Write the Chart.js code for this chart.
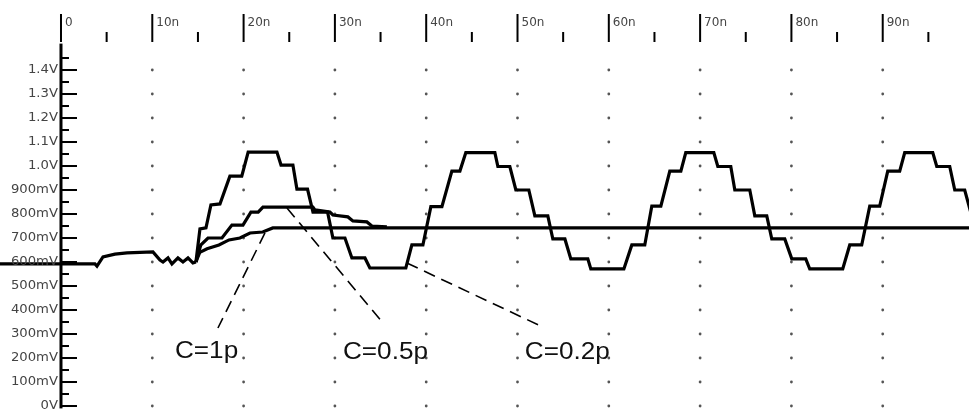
<!DOCTYPE html>
<html>
<head>
<meta charset="utf-8">
<script src="https://cdn.jsdelivr.net/npm/chart.js"></script>
<style>
body { margin: 0; background: #fff; }
#wrap { width: 969px; height: 411px; position: relative; }
</style>
</head>
<body>
<div id="wrap"><canvas id="ctx2"></canvas></div>
<script>
// axis ticks (time in ns, voltage in V)
const xTicks = [0, 10, 20, 30, 40, 50, 60, 70, 80, 90];
const xTickLabels = ['0', '10n', '20n', '30n', '40n', '50n', '60n', '70n', '80n', '90n'];
const yTicks = [0, 0.1, 0.2, 0.3, 0.4, 0.5, 0.6, 0.7, 0.8, 0.9, 1.0, 1.1, 1.2, 1.3, 1.4];
const yTickLabels = ['0V', '100mV', '200mV', '300mV', '400mV', '500mV', '600mV', '700mV', '800mV', '900mV', '1.0V', '1.1V', '1.2V', '1.3V', '1.4V'];

// common start of all traces
const tCommon = [-6.68, 3.72, 3.94, 4.60, 5.91, 7.23, 10.07, 10.84, 11.17, 11.72, 12.15, 12.81, 13.36, 13.91, 14.45, 14.78];
const vCommon = [0.592, 0.592, 0.583, 0.621, 0.633, 0.638, 0.642, 0.608, 0.600, 0.617, 0.592, 0.617, 0.600, 0.617, 0.596, 0.600];

// C=1p
const t1p = [14.78, 15.2, 16.0, 17.3, 18.4, 19.6, 20.7, 22.1, 23.2, 25.1, 99.45];
const v1p = [0.600, 0.640, 0.655, 0.671, 0.692, 0.700, 0.721, 0.725, 0.742, 0.742, 0.742];

// C=0.5p
const t05p = [14.78, 15.3, 16.1, 17.63, 18.72, 19.93, 20.8, 21.6, 22.12, 27.59, 27.81, 29.45, 29.78, 31.42, 31.97, 33.5, 34.05, 35.69];
const v05p = [0.600, 0.670, 0.700, 0.700, 0.754, 0.754, 0.808, 0.808, 0.829, 0.829, 0.817, 0.808, 0.796, 0.788, 0.771, 0.767, 0.750, 0.746];

// C=0.2p
const t02p = [14.78, 15.22, 15.88, 16.42, 17.41, 18.50, 19.80, 20.50, 23.65, 24.10, 25.40, 25.84, 27.00, 27.60, 29.20, 29.78, 31.10, 31.86, 33.29, 33.83,
  37.77, 38.43, 39.64, 40.51, 41.72, 42.81, 43.69, 44.34, 47.52, 47.85, 49.16, 49.82, 51.24, 51.90, 53.32, 53.87, 55.19, 55.84, 57.70, 58.03,
  61.65, 62.52, 63.94, 64.71, 65.70, 66.68, 67.89, 68.43, 71.50, 71.94, 73.36, 73.80, 75.44, 75.99, 77.30, 77.85, 79.27, 80.04, 81.57, 82.01,
  85.62, 86.39, 87.70, 88.58, 89.67, 90.55, 91.86, 92.41, 95.48, 95.92, 97.34, 97.89, 98.98, 99.75];
const v02p = [0.600, 0.738, 0.742, 0.838, 0.842, 0.958, 0.958, 1.058, 1.058, 1.004, 1.004, 0.904, 0.904, 0.808, 0.808, 0.700, 0.700, 0.617, 0.617, 0.575,
  0.575, 0.671, 0.671, 0.831, 0.831, 0.979, 0.979, 1.056, 1.056, 0.998, 0.998, 0.900, 0.900, 0.792, 0.792, 0.696, 0.696, 0.613, 0.613, 0.571,
  0.571, 0.671, 0.671, 0.833, 0.833, 0.979, 0.979, 1.056, 1.056, 0.998, 0.998, 0.900, 0.900, 0.792, 0.792, 0.696, 0.696, 0.613, 0.613, 0.571,
  0.571, 0.671, 0.671, 0.833, 0.833, 0.979, 0.979, 1.056, 1.056, 0.998, 0.998, 0.900, 0.900, 0.792];

// annotations
const notes = ['C=1p', 'C=0.5p', 'C=0.2p'];
const noteT = [12.48, 30.88, 50.8];
const noteV = [0.2, 0.196, 0.196];
const leadT = [[22.34, 17.19], [24.75, 35.26], [37.88, 52.78]];
const leadV = [[0.721, 0.325], [0.825, 0.346], [0.596, 0.329]];

const pts = (t, v) => t.map((x, i) => ({x: x, y: v[i]}));

const trace = (t, v) => ({
    data: pts(t, v),
    showLine: true,
    borderColor: '#000',
    borderWidth: 3.2,
    pointRadius: 0,
    tension: 0,
    fill: false
});

let datasets = [trace(tCommon, vCommon), trace(t1p, v1p), trace(t05p, v05p), trace(t02p, v02p)];
leadT.forEach((lt, i) => {
    datasets.push({
        data: pts(lt, leadV[i]),
        showLine: true,
        borderColor: '#000',
        borderWidth: 1.6,
        borderDash: [12, 7],
        pointRadius: 0,
        fill: false
    });
});

const scopePlugin = {
    id: 'scope',
    beforeDatasetsDraw(chart) {
        const ctx = chart.ctx, x = chart.scales.x, y = chart.scales.y;
        ctx.save();
        ctx.fillStyle = '#555';
        xTicks.slice(1).forEach(t => {
            yTicks.forEach(v => {
                ctx.beginPath();
                ctx.arc(x.getPixelForValue(t), y.getPixelForValue(v), 1.4, 0, Math.PI * 2);
                ctx.fill();
            });
        });
        ctx.restore();
    },
    afterDatasetsDraw(chart) {
        const ctx = chart.ctx, x = chart.scales.x, y = chart.scales.y;
        const x0 = x.getPixelForValue(0);
        ctx.save();
        ctx.fillStyle = '#000';
        // vertical axis
        const top = y.getPixelForValue(1.51), bot = y.getPixelForValue(-0.01);
        ctx.fillRect(x0 - 1.5, top, 3, bot - top);
        yTicks.forEach(v => {
            ctx.fillRect(x0, y.getPixelForValue(v) - 1, 16, 2);
            ctx.fillRect(x0, y.getPixelForValue(v + 0.05) - 1, 8, 2);
        });
        // top time axis
        xTicks.forEach(t => {
            ctx.fillRect(x.getPixelForValue(t) - 1, 14, 2, 28);
            ctx.fillRect(x.getPixelForValue(t + 5) - 1, 32, 2, 10);
        });
        ctx.fillStyle = '#444';
        ctx.font = '12px "DejaVu Sans"';
        ctx.textBaseline = 'alphabetic';
        ctx.textAlign = 'left';
        xTickLabels.forEach((lbl, i) => {
            ctx.save();
            ctx.translate(x.getPixelForValue(xTicks[i]) + 4, 26);
            ctx.fillText(lbl, 0, 0);
            ctx.restore();
        });
        ctx.textAlign = 'right';
        ctx.textBaseline = 'middle';
        yTickLabels.forEach((lbl, i) => {
            ctx.save();
            ctx.translate(x0 - 3, y.getPixelForValue(yTicks[i]));
            ctx.scale(1.1, 1);
            ctx.fillText(lbl, 0, 0);
            ctx.restore();
        });
        // curve notes
        ctx.fillStyle = '#111';
        ctx.font = '24px "Liberation Sans", Arial';
        ctx.textAlign = 'left';
        ctx.textBaseline = 'alphabetic';
        notes.forEach((n, i) => {
            ctx.save();
            ctx.translate(x.getPixelForValue(noteT[i]), y.getPixelForValue(noteV[i]));
            ctx.scale(1.09, 1);
            ctx.fillText(n, 0, 0);
            ctx.restore();
        });
        ctx.restore();
    }
};

const mychart = document.getElementById('ctx2');
new Chart(mychart, {
    type: 'scatter',
    data: { datasets: datasets },
    options: {
        responsive: true,
        maintainAspectRatio: false,
        animation: false,
        layout: { padding: 0 },
        plugins: { legend: { display: false }, tooltip: { enabled: false } },
        scales: {
            x: { type: 'linear', display: false, min: -6.68, max: 99.45 },
            y: { type: 'linear', display: false, min: -0.0208, max: 1.6917 }
        }
    },
    plugins: [scopePlugin]
});
</script>
</body>
</html>
